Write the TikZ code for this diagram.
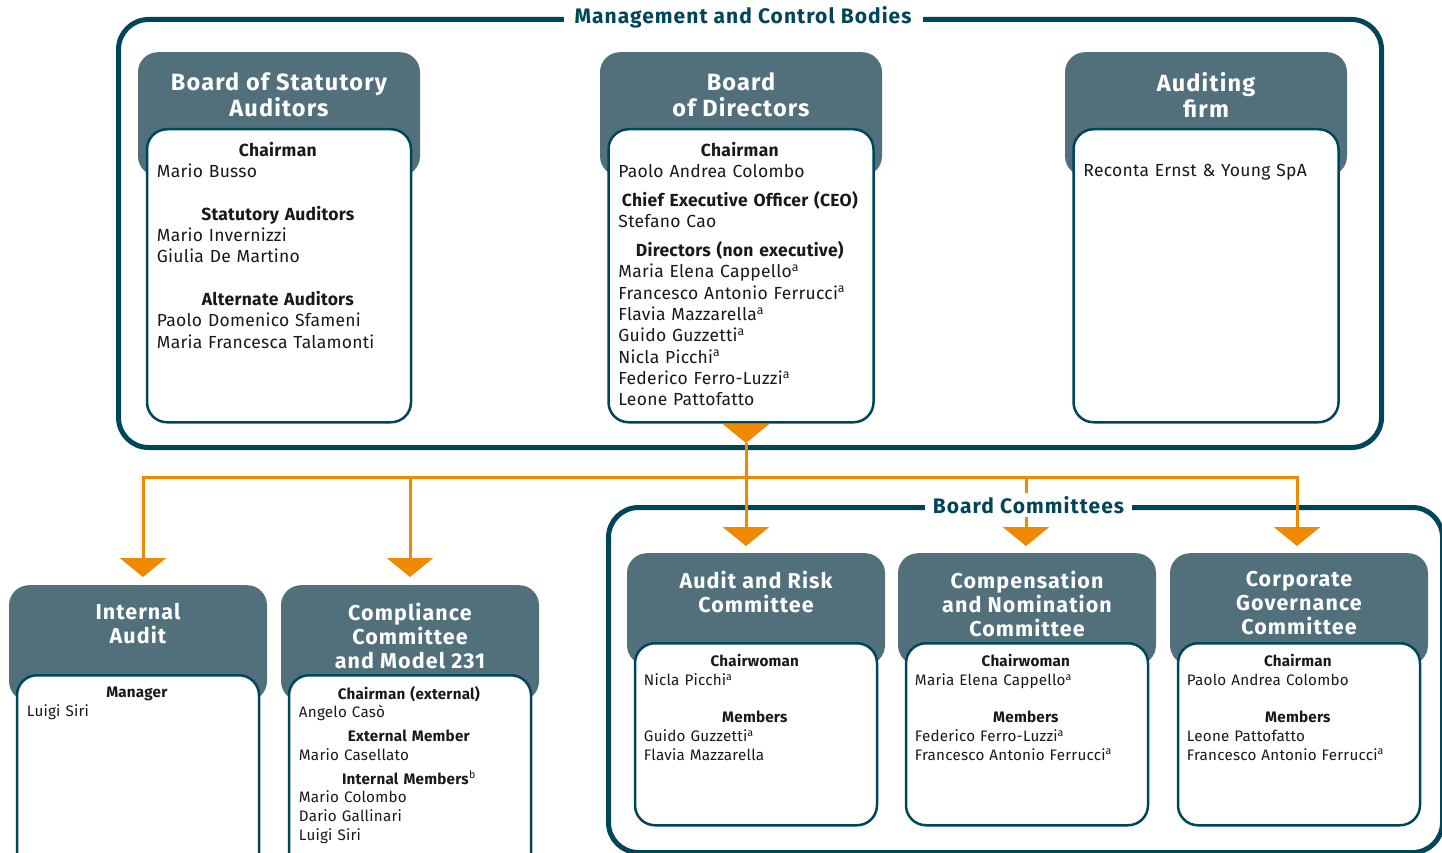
\documentclass[tikz,border=0pt]{standalone}
\usepackage{fontspec}
\setmainfont{Fira Sans}[LetterSpace=1.5]
\newfontfamily\titlefont{Fira Sans}[LetterSpace=5]
\usetikzlibrary{positioning,arrows.meta}
\definecolor{boardteal}{RGB}{0,70,90}
\definecolor{headgrey}{RGB}{81,112,124}
\definecolor{arroworange}{RGB}{240,136,0}
\definecolor{bodytext}{RGB}{25,25,25}
\newcommand{\rolehead}[1]{\hfill\textbf{#1}\hfill\null}

\begin{document}
\begin{tikzpicture}[x=1pt,y=-1pt,
    frame/.style={draw=boardteal,line width=5pt,rounded corners=30pt,inner sep=0pt,anchor=north west},
    framelabel/.style={fill=white,text=boardteal,inner xsep=11pt,inner ysep=3pt,font=\titlefont\fontsize{21}{24}\selectfont\bfseries},
    head/.style={fill=headgrey,rounded corners=20pt,inner sep=0pt,anchor=north},
    card/.style={draw=boardteal,fill=white,line width=2.5pt,rounded corners=20pt,inner sep=0pt},
    headtext/.style={text=white,align=center,inner sep=0pt,font=\titlefont\fontsize{23.5}{26}\selectfont\bfseries},
    subheadtext/.style={headtext,font=\titlefont\fontsize{21.5}{24}\selectfont\bfseries},
    body/.style={text=bodytext,align=left,inner sep=0pt,font=\fontsize{17.5}{21.3}\selectfont},
    small/.style={font=\fontsize{15.2}{18.7}\selectfont},
    arr/.style={draw=arroworange,line width=3pt,-{Triangle[width=46pt,length=19pt]}}
]
\useasboundingbox (0,0) rectangle (1442,853);
\clip (0,0) rectangle (1442,853);

% outer frames
\node[frame, minimum width=1263pt, minimum height=428pt] (mcb) at (116,17) {};
\node[frame, minimum width=834pt, minimum height=345pt] (bc) at (606,505) {};
\node[framelabel] (mcbT) at ([xshift=-7pt]mcb.north) {Management and Control Bodies};

% management and control bodies
\node[head, minimum width=282pt, minimum height=124pt] (bsaH) at (279,52) {};
\node[card, minimum width=264pt, minimum height=293pt, below=76pt of bsaH.north] (bsaI) {};
\node[headtext, below=20pt of bsaH.north] (bsaT) {Board of Statutory\\Auditors};
\node[body, text width=242pt, below right=14pt and 11pt of bsaI.north west] (bsaB)
  {\rolehead{Chairman}\\ Mario Busso\\[21.3pt]
   \rolehead{Statutory Auditors}\\ Mario Invernizzi\\ Giulia De Martino\\[21.3pt]
   \rolehead{Alternate Auditors}\\ Paolo Domenico Sfameni\\ Maria Francesca Talamonti};

\node[head, minimum width=282pt, minimum height=124pt] (bodH) at (741,52) {};
\node[card, minimum width=265pt, minimum height=293pt, below=76pt of bodH.north] (bodI) {};
\node[headtext, below=20pt of bodH.north] (bodT) {Board\\of Directors};
\node[body, text width=243pt, below right=14pt and 11pt of bodI.north west] (bodB)
  {\rolehead{Chairman}\\ Paolo Andrea Colombo\\[7.5pt]
   \rolehead{Chief Executive Officer (CEO)}\\ Stefano Cao\\[7.5pt]
   \rolehead{Directors (non executive)}\\
   Maria Elena Cappello\textsuperscript{a}\\ Francesco Antonio Ferrucci\textsuperscript{a}\\
   Flavia Mazzarella\textsuperscript{a}\\ Guido Guzzetti\textsuperscript{a}\\
   Nicla Picchi\textsuperscript{a}\\ Federico Ferro-Luzzi\textsuperscript{a}\\ Leone Pattofatto};

\node[head, minimum width=282pt, minimum height=124pt] (afH) at (1206,52) {};
\node[card, minimum width=265pt, minimum height=293pt, below=76pt of afH.north] (afI) {};
\node[headtext, below=20pt of afH.north] (afT) {Auditing\\firm};
\node[body, text width=243pt, below right=36pt and 11pt of afI.north west] (afB)
  {Reconta Ernst \& Young SpA};

% internal audit and compliance
\node[head, minimum width=258pt, minimum height=116pt] (iaH) at (138,585) {};
\node[card, minimum width=242pt, minimum height=210pt, below=89pt of iaH.north] (iaI) {};
\node[subheadtext, below=18pt of iaH.north] (iaT) {Internal\\Audit};
\node[body, small, text width=220pt, below right=13pt and 11pt of iaI.north west] (iaB)
  {\rolehead{Manager}\\ Luigi Siri};

\node[head, minimum width=258pt, minimum height=116pt] (ccH) at (410,585) {};
\node[card, minimum width=242pt, minimum height=210pt, below=89pt of ccH.north] (ccI) {};
\node[subheadtext, below=18pt of ccH.north] (ccT) {Compliance\\Committee\\and Model 231};
\node[body, small, text width=220pt, below right=12pt and 11pt of ccI.north west] (ccB)
  {\rolehead{Chairman (external)}\\ Angelo Casò\\[5pt]
   \rolehead{External Member}\\ Mario Casellato\\[5pt]
   \rolehead{Internal Members\textmd{\textsuperscript{b}}}\\ Mario Colombo\\ Dario Gallinari\\ Luigi Siri};

% board committees
\node[head, minimum width=258pt, minimum height=112pt] (arcH) at (756,553) {};
\node[card, minimum width=242pt, minimum height=182pt, below=89pt of arcH.north] (arcI) {};
\node[subheadtext, below=18pt of arcH.north] (arcT) {Audit and Risk\\Committee};
\node[body, small, text width=222pt, below right=12pt and 10pt of arcI.north west] (arcB)
  {\rolehead{Chairwoman}\\ Nicla Picchi\textsuperscript{a}\\[18.7pt]
   \rolehead{Members}\\ Guido Guzzetti\textsuperscript{a}\\ Flavia Mazzarella};

\node[head, minimum width=258pt, minimum height=112pt] (cncH) at (1027,553) {};
\node[card, minimum width=242pt, minimum height=182pt, below=89pt of cncH.north] (cncI) {};
\node[subheadtext, below=18pt of cncH.north] (cncT) {Compensation\\and Nomination\\Committee};
\node[body, small, text width=222pt, below right=12pt and 10pt of cncI.north west] (cncB)
  {\rolehead{Chairwoman}\\ Maria Elena Cappello\textsuperscript{a}\\[18.7pt]
   \rolehead{Members}\\ Federico Ferro-Luzzi\textsuperscript{a}\\ Francesco Antonio Ferrucci\textsuperscript{a}};

\node[head, minimum width=258pt, minimum height=112pt] (cpgH) at (1299,553) {};
\node[card, minimum width=242pt, minimum height=182pt, below=89pt of cpgH.north] (cpgI) {};
\node[subheadtext, below=18pt of cpgH.north] (cpgT) {Corporate\\Governance\\Committee};
\node[body, small, text width=222pt, below right=12pt and 10pt of cpgI.north west] (cpgB)
  {\rolehead{Chairman}\\ Paolo Andrea Colombo\\[18.7pt]
   \rolehead{Members}\\ Leone Pattofatto\\ Francesco Antonio Ferrucci\textsuperscript{a}};

% reporting lines
\coordinate (hub) at (746,443);
\coordinate (bar) at (746,477);
\draw[arr] (bodI.south -| hub) -- (hub);
\draw[arr, shorten >=7pt] (hub) -- (hub |- arcH.north);
\draw[arr, shorten >=8pt] (bar) -| ([xshift=5pt]iaH.north);
\draw[arr, shorten >=8pt] (bar) -| (ccH.north);
\draw[arr, shorten >=7pt] (bar) -| ([xshift=-1pt]cncH.north);
\draw[arr, shorten >=7pt] (bar) -| ([xshift=-2pt]cpgH.north);

\node[framelabel, inner xsep=8pt] (bcT) at ([xshift=3pt]bc.north) {Board Committees};
\end{tikzpicture}
\end{document}
